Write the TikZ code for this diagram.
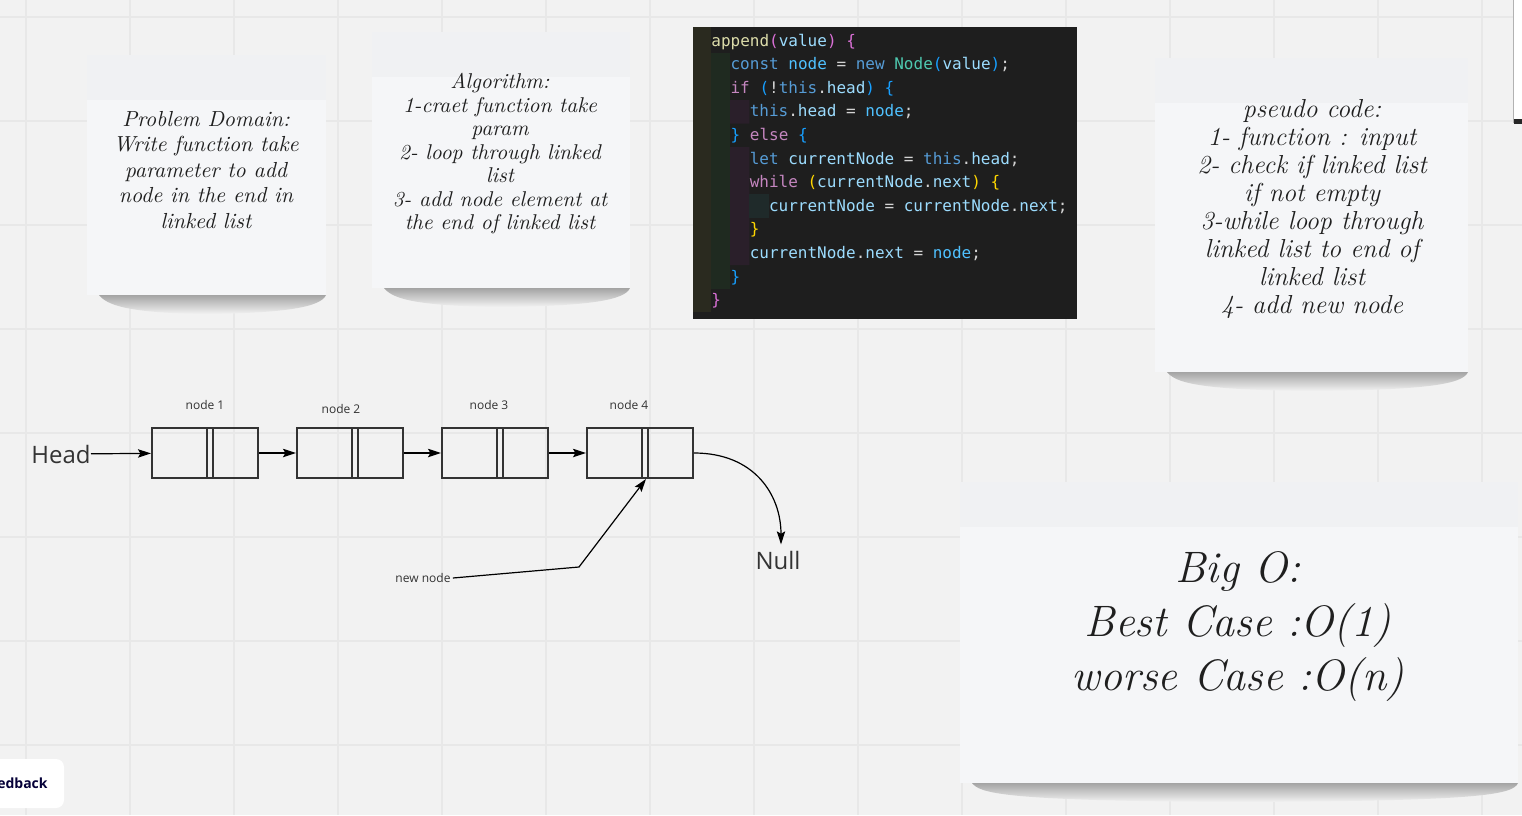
\documentclass[tikz,border=0pt]{standalone}
\usepackage{fontspec}
\setsansfont{Open Sans}
\setmonofont{DejaVu Sans Mono}
\usepackage{xcolor}
\usetikzlibrary{arrows.meta, calc, positioning}

\definecolor{boardbg}{HTML}{F2F2F2}
\definecolor{gridc}{HTML}{E8E8E8}
\definecolor{notec}{HTML}{F5F6F8}
\definecolor{bandc}{HTML}{F0F1F3}
\definecolor{shadowc}{HTML}{A4A4A4}
\definecolor{inkc}{HTML}{333333}
\definecolor{navyc}{HTML}{050038}
\definecolor{codebg}{HTML}{1E1E1E}
\definecolor{guideA}{HTML}{2A2A1F}
\definecolor{guideB}{HTML}{1F2A20}
\definecolor{guideC}{HTML}{2A1F2A}
\definecolor{guideD}{HTML}{1F2A2A}
\definecolor{ckw}{HTML}{569CD6}
\definecolor{cfn}{HTML}{DCDCAA}
\definecolor{cvar}{HTML}{9CDCFE}
\definecolor{cconst}{HTML}{4FC1FF}
\definecolor{ctype}{HTML}{4EC9B0}
\definecolor{cctl}{HTML}{C586C0}
\definecolor{cpun}{HTML}{D4D4D4}
\definecolor{cbrA}{HTML}{FFD700}
\definecolor{cbrB}{HTML}{DA70D6}
\definecolor{cbrC}{HTML}{179FFF}

\begin{document}
\begin{tikzpicture}[
    x=0.5pt, y=-0.5pt,
    gridline/.style={draw=gridc, line width=0.6pt},
    hand/.style 2 args={
        align=center,
        text=black!88,
        inner sep=0pt,
        font=\itshape\fontsize{#1}{#2}\selectfont
    },
    code/.style={
        anchor=base west,
        inner sep=0pt,
        text=cpun,
        font=\ttfamily\fontsize{8pt}{10pt}\selectfont
    },
    cell/.style={draw=inkc, line width=1pt, minimum width=53pt, minimum height=25pt, inner sep=0pt},
    divider/.style={draw=inkc, line width=1pt},
    link/.style={draw=black, line width=0.6pt, -{Stealth[length=6.5pt, width=4.2pt, inset=1.2pt]}},
    tag/.style={font=\sffamily\fontsize{6pt}{7pt}\selectfont, text=inkc, inner sep=1pt},
    biglbl/.style={font=\sffamily\fontsize{12pt}{14pt}\selectfont, text=inkc, inner sep=0pt}
]
\useasboundingbox (0,0) rectangle (1522,815);

% Board and grid
\fill[boardbg] (0,0) rectangle (1522,815);
\foreach \gx in {26,130,...,1522}
    \draw[gridline] (\gx,0) -- (\gx,815);
\foreach \gy in {17,121,...,815}
    \draw[gridline] (0,\gy) -- (1522,\gy);

% Sticky notes
\foreach \xa/\ya/\xb/\yb in {87/55/326/295, 372/32/630/288, 1155/58/1468/372, 960/482/1518/783} {
    \shade[top color=shadowc, bottom color=boardbg]
        ({\xa+12},\yb) -- (\xb,\yb)
        .. controls ({\xb-5},{\yb+12}) and ({\xb-40},{\yb+18}) .. ({(\xa+\xb)/2},{\yb+19})
        .. controls ({\xa+40},{\yb+18}) and ({\xa+20},{\yb+10}) .. cycle;
    \fill[notec] (\xa,\ya) rectangle (\xb,\yb);
    \fill[bandc] (\xa,\ya) rectangle (\xb,{\ya+45});
}

\node[hand={10.9pt}{12.75pt}] (problem) at (206,170) {
    Problem Domain:\\
    Write function take\\
    parameter to add\\
    node in the end in\\
    linked list
};
\node[hand={10.7pt}{11.75pt}] (algo) at (500,154) {
    Algorithm:\\
    1-craet function take\\
    param\\
    2- loop through linked\\
    list\\
    3- add node element at\\
    the end of linked list
};
\node[hand={13pt}{14pt}] (pseudo) at (1312,209) {
    pseudo code:\\
    1- function : input\\
    2- check if linked list\\
    if not empty\\
    3-while loop through\\
    linked list to end of\\
    linked list\\
    4- add new node
};
\node[hand={22pt}{27pt}] (bigo) at (1238,627) {
    Big O:\\
    Best Case :O(1)\\
    worse Case :O(n)
};

% Code screenshot
\fill[codebg] (693,27) rectangle (1077,319);
\fill[guideA] (693,27) rectangle (711,312.4);
\fill[guideB] (711,52.8) rectangle (730.2,288.8);
\fill[guideC] (730.2,100) rectangle (749.4,123.6) (730.2,147.2) rectangle (749.4,265.2);
\fill[guideD] (749.4,194.4) rectangle (768.6,218);

\node[code] (c1) at (711,46) {\textcolor{cfn}{append}\textcolor{cbrB}{(}\textcolor{cvar}{value}\textcolor{cbrB}{)} \textcolor{cbrB}{\{}};
\node[code] (c2) at (730.2,69.6) {\textcolor{ckw}{const} \textcolor{cconst}{node} = \textcolor{ckw}{new} \textcolor{ctype}{Node}\textcolor{cbrC}{(}\textcolor{cvar}{value}\textcolor{cbrC}{)};};
\node[code] (c3) at (730.2,93.2) {\textcolor{cctl}{if} \textcolor{cbrC}{(}!\textcolor{ckw}{this}.\textcolor{cvar}{head}\textcolor{cbrC}{)} \textcolor{cbrC}{\{}};
\node[code] (c4) at (749.4,116.8) {\textcolor{ckw}{this}.\textcolor{cvar}{head} = \textcolor{cconst}{node};};
\node[code] (c5) at (730.2,140.4) {\textcolor{cbrC}{\}} \textcolor{cctl}{else} \textcolor{cbrC}{\{}};
\node[code] (c6) at (749.4,164) {\textcolor{ckw}{let} \textcolor{cvar}{currentNode} = \textcolor{ckw}{this}.\textcolor{cvar}{head};};
\node[code] (c7) at (749.4,187.6) {\textcolor{cctl}{while} \textcolor{cbrA}{(}\textcolor{cvar}{currentNode}.\textcolor{cvar}{next}\textcolor{cbrA}{)} \textcolor{cbrA}{\{}};
\node[code] (c8) at (768.6,211.2) {\textcolor{cvar}{currentNode} = \textcolor{cvar}{currentNode}.\textcolor{cvar}{next};};
\node[code] (c9) at (749.4,234.8) {\textcolor{cbrA}{\}}};
\node[code] (c10) at (749.4,258.4) {\textcolor{cvar}{currentNode}.\textcolor{cvar}{next} = \textcolor{cconst}{node};};
\node[code] (c11) at (730.2,282) {\textcolor{cbrC}{\}}};
\node[code] (c12) at (711,305.6) {\textcolor{cbrB}{\}}};

% Linked list
\node[biglbl, anchor=east] (head) at (91,454) {Head};
\foreach \i/\cx in {1/205, 2/350, 3/495, 4/640} {
    \node[cell] (n\i) at (\cx,453) {};
    \draw[divider] ($(n\i.north)+(1.5,0)$) -- ($(n\i.south)+(1.5,0)$)
                   ($(n\i.north)+(7.5,0)$) -- ($(n\i.south)+(7.5,0)$);
}
\node[tag] (t1) at (205,405) {node 1};
\node[tag] (t2) at (341,409) {node 2};
\node[tag] (t3) at (489,405) {node 3};
\node[tag] (t4) at (629,405) {node 4};

\draw[link] (head) -- (n1);
\draw[link] (n1) -- (n2);
\draw[link] (n2) -- (n3);
\draw[link] (n3) -- (n4);

% End of list
\node[biglbl] (null) at (778,560) {Null};
\draw[link] (n4.east) .. controls +(60,0) and +(0,-50) .. ([xshift=1.5pt, yshift=3pt]null.north);

% New node pointer
\node[tag] (newnode) at (423,578) {new node};
\coordinate (kink) at (579,567);
\draw[link] (newnode.east) -- (kink) -- ([xshift=3pt]n4.south);

% Edge of a frame at the right border
\fill[white] (1514,0) rectangle (1522,121);
\draw[gray!60, line width=0.5pt] (1513.5,0) -- (1513.5,123);
\fill[black!85] (1514,119) rectangle (1522,124);

% Feedback button
\fill[white, rounded corners=4pt] (-10,759) rectangle (64,808);
\node[font=\sffamily\bfseries\fontsize{7pt}{9pt}\selectfont, text=navyc, anchor=east, inner sep=0pt] (feedback) at (48,783) {edback};

\end{tikzpicture}
\end{document}
